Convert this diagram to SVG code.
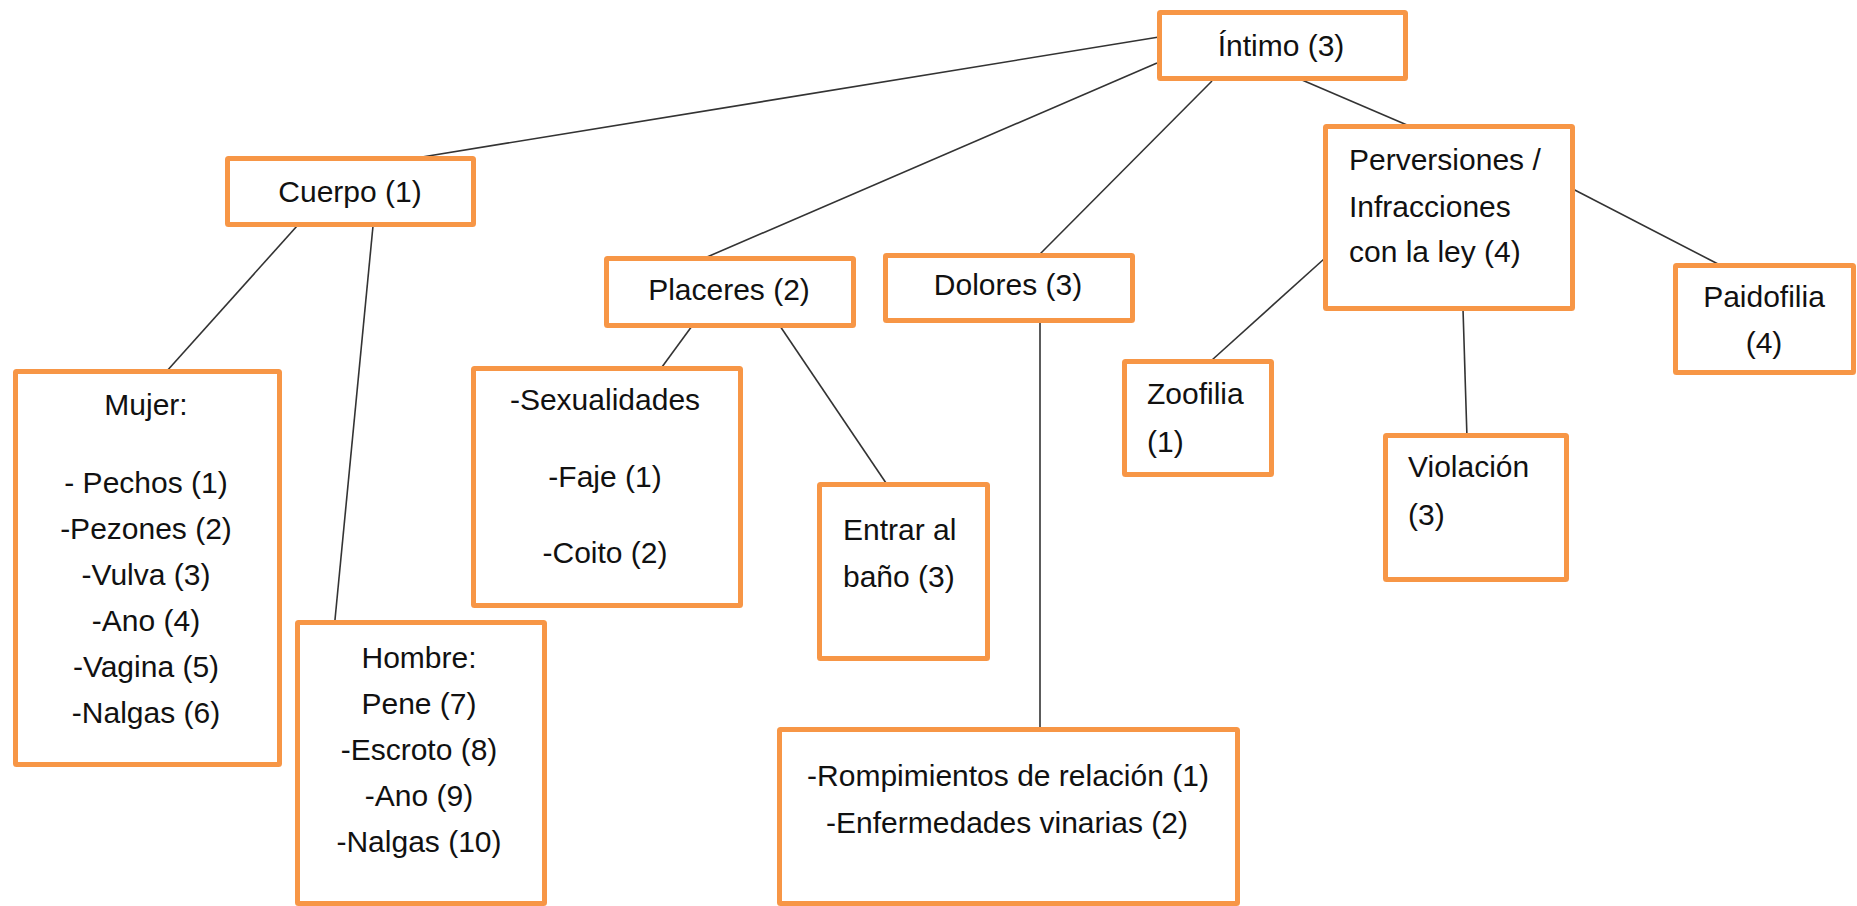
<svg xmlns="http://www.w3.org/2000/svg" width="1857" height="906" viewBox="0 0 1857 906">
<style>
.box{fill:#ffffff;stroke:#f79646;stroke-width:5}
.t{font-family:"Liberation Sans",Arial,sans-serif;font-size:30px;fill:#111111}
.c{text-anchor:middle}
.conn line{stroke:#333333;stroke-width:1.6}
</style>
<rect width="1857" height="906" fill="#ffffff"/>
<g id="connectors" class="conn">
<line x1="1159" y1="37" x2="422" y2="157"/>
<line x1="1157" y1="63" x2="707" y2="257"/>
<line x1="1212" y1="81" x2="1040" y2="254"/>
<line x1="1302" y1="80" x2="1407" y2="125"/>
<line x1="297" y1="226" x2="166" y2="372"/>
<line x1="373" y1="226" x2="334" y2="630"/>
<line x1="692" y1="326" x2="662" y2="367"/>
<line x1="780" y1="326" x2="886" y2="483"/>
<line x1="1040" y1="322" x2="1040" y2="728"/>
<line x1="1324" y1="259" x2="1212" y2="360"/>
<line x1="1463" y1="309" x2="1467" y2="438"/>
<line x1="1567" y1="186" x2="1718" y2="264"/>
</g>
<g id="intimo">
<rect class="box" x="1159.5" y="12.5" width="246" height="66" rx="1"/>
<text class="t c" x="1281" y="56">Íntimo (3)</text>
</g>
<g id="cuerpo">
<rect class="box" x="227.5" y="158.5" width="246" height="66" rx="1"/>
<text class="t c" x="350" y="202">Cuerpo (1)</text>
</g>
<g id="mujer">
<rect class="box" x="15.5" y="371.5" width="264" height="393" rx="1"/>
<text class="t c" x="146" y="415">Mujer:</text>
<text class="t c" x="146" y="493">- Pechos (1)</text>
<text class="t c" x="146" y="539">-Pezones (2)</text>
<text class="t c" x="146" y="585">-Vulva (3)</text>
<text class="t c" x="146" y="631">-Ano (4)</text>
<text class="t c" x="146" y="677">-Vagina (5)</text>
<text class="t c" x="146" y="723">-Nalgas (6)</text>
</g>
<g id="hombre">
<rect class="box" x="297.5" y="622.5" width="247" height="281" rx="1"/>
<text class="t c" x="419" y="668">Hombre:</text>
<text class="t c" x="419" y="714">Pene (7)</text>
<text class="t c" x="419" y="760">-Escroto (8)</text>
<text class="t c" x="419" y="806">-Ano (9)</text>
<text class="t c" x="419" y="852">-Nalgas (10)</text>
</g>
<g id="placeres">
<rect class="box" x="606.5" y="258.5" width="247" height="67" rx="1"/>
<text class="t c" x="729" y="300">Placeres (2)</text>
</g>
<g id="sexualidades">
<rect class="box" x="473.5" y="368.5" width="267" height="237" rx="1"/>
<text class="t c" x="605" y="410">-Sexualidades</text>
<text class="t c" x="605" y="487">-Faje (1)</text>
<text class="t c" x="605" y="563">-Coito (2)</text>
</g>
<g id="entrar">
<rect class="box" x="819.5" y="484.5" width="168" height="174" rx="1"/>
<text class="t" x="843" y="540">Entrar al</text>
<text class="t" x="843" y="587">baño (3)</text>
</g>
<g id="dolores">
<rect class="box" x="885.5" y="255.5" width="247" height="65" rx="1"/>
<text class="t c" x="1008" y="295">Dolores (3)</text>
</g>
<g id="rompimientos">
<rect class="box" x="779.5" y="729.5" width="458" height="174" rx="1"/>
<text class="t c" x="1008" y="786">-Rompimientos de relación (1)</text>
<text class="t c" x="1007" y="833">-Enfermedades vinarias (2)</text>
</g>
<g id="perversiones">
<rect class="box" x="1325.5" y="126.5" width="247" height="182" rx="1"/>
<text class="t" x="1349" y="170">Perversiones /</text>
<text class="t" x="1349" y="217">Infracciones</text>
<text class="t" x="1349" y="262">con la ley (4)</text>
</g>
<g id="zoofilia">
<rect class="box" x="1124.5" y="361.5" width="147" height="113" rx="1"/>
<text class="t" x="1147" y="404">Zoofilia</text>
<text class="t" x="1147" y="452">(1)</text>
</g>
<g id="violacion">
<rect class="box" x="1385.5" y="435.5" width="181" height="144" rx="1"/>
<text class="t" x="1408" y="477">Violación</text>
<text class="t" x="1408" y="525">(3)</text>
</g>
<g id="paidofilia">
<rect class="box" x="1675.5" y="265.5" width="178" height="107" rx="1"/>
<text class="t c" x="1764" y="307">Paidofilia</text>
<text class="t c" x="1764" y="353">(4)</text>
</g>
</svg>
